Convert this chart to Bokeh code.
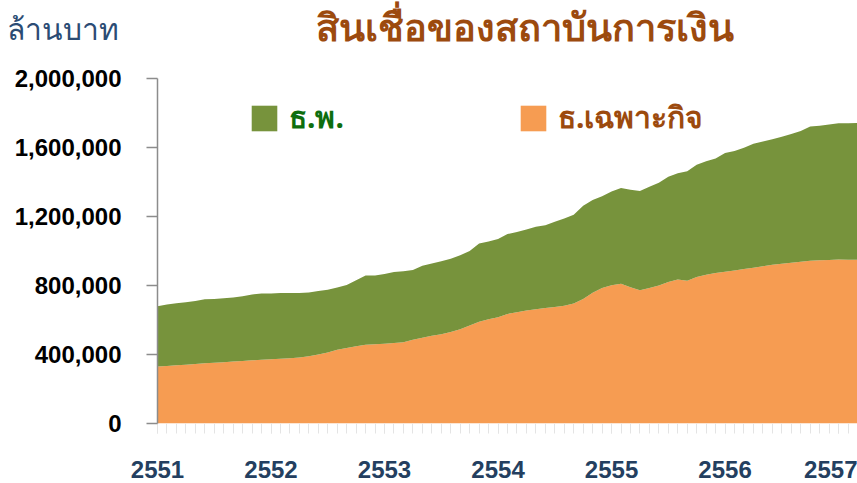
from bokeh.plotting import figure
from bokeh.layouts import column
from bokeh.models import (ColumnDataSource, FixedTicker, NumeralTickFormatter, Label,
                          Legend, LegendItem, Range1d)
from bokeh.embed import file_html
from bokeh.resources import INLINE

# ---------------- data (million baht), monthly from Jan 2551 ----------------
years = ["2551", "2552", "2553", "2554", "2555", "2556", "2557"]
year_start_index = [0, 12, 24, 36, 48, 60, 72]

# Specialized financial institutions (ธ.เฉพาะกิจ)
specialized = [
    330000, 334000, 337000, 340000, 345000, 349000, 352000, 355000, 359000, 362000, 366000, 369000,
    372000, 375000, 378000, 383000, 390000, 400000, 412000, 427000, 438000, 448000, 457000, 460000,
    463000, 467000, 471000, 485000, 497000, 508000, 518000, 530000, 546000, 568000, 590000, 604000,
    616000, 635000, 645000, 655000, 663000, 670000, 676000, 682000, 695000, 722000, 758000, 785000,
    802000, 810000, 790000, 772000, 785000, 800000, 820000, 835000, 828000, 850000, 862000, 872000,
    880000, 887000, 895000, 903000, 912000, 920000, 926000, 932000, 937000, 943000, 947000, 948000,
    951000, 950000, 949000,
]
# Commercial banks (ธ.พ.)
commercial = [
    350000, 356000, 360000, 363000, 365000, 371000, 370000, 371000, 372000, 375000, 382000, 384000,
    382000, 381000, 379000, 373000, 370000, 368000, 363000, 361000, 365000, 382000, 401000, 398000,
    403000, 411000, 411000, 405000, 418000, 420000, 422000, 425000, 429000, 432000, 453000, 451000,
    454000, 463000, 465000, 470000, 477000, 480000, 494000, 506000, 515000, 540000, 537000, 533000,
    543000, 555000, 565000, 576000, 587000, 595000, 610000, 616000, 634000, 650000, 658000, 664000,
    688000, 693000, 703000, 719000, 723000, 728000, 736000, 746000, 758000, 779000, 779000, 785000,
    790000, 790000, 793000,
]
month_index = list(range(len(specialized)))
y_ticks = [0, 400000, 800000, 1200000, 1600000, 2000000]

title_text = "สินเชื่อของสถาบันการเงิน"
y_label_text = "ล้านบาท"
label_commercial = "ธ.พ."
label_specialized = "ธ.เฉพาะกิจ"

# ---------------- styling ----------------
GREEN = "#77933C"
ORANGE = "#F69C52"
BROWN = "#9C4A0E"
DKGREEN = "#0E6E0E"
NAVY = "#243F60"
THAI_FONT = "Noto Sans"
W = 857
LEFT = 157
HEAD_H = 66

# ---------------- header strip: title and unit (y-axis) label ----------------
head = figure(width=W, height=HEAD_H, output_backend="svg", toolbar_location=None,
              x_range=Range1d(0, W - LEFT), y_range=Range1d(HEAD_H, 0),
              x_axis_type=None, min_border_left=LEFT, min_border_right=0,
              min_border_top=0, min_border_bottom=11)
head.outline_line_color = None
head.grid.grid_line_color = None
head.background_fill_color = "white"
head.border_fill_color = "white"
ya = head.yaxis[0]
ya.ticker = FixedTicker(ticks=[])
ya.axis_line_color = None
ya.major_tick_line_color = None
ya.minor_tick_line_color = None
ya.major_tick_out = 0
ya.minor_tick_out = 0
ya.major_label_standoff = 0
ya.axis_label = y_label_text
ya.axis_label_orientation = "horizontal"
ya.axis_label_standoff = 39
ya.axis_label_text_font = THAI_FONT
ya.axis_label_text_font_style = "normal"
ya.axis_label_text_font_size = "30px"
ya.axis_label_text_color = "#2B4C74"

head.add_layout(Label(x=315 - LEFT, y=31, text=title_text, text_align="left",
                      text_baseline="alphabetic", text_font=THAI_FONT, text_font_style="bold",
                      text_font_size="38px", text_color=BROWN))

# ---------------- main chart ----------------
source = ColumnDataSource(dict(x=month_index, spec=specialized, comm=commercial))

p = figure(width=W, height=483 - HEAD_H, output_backend="svg", toolbar_location=None,
           x_range=Range1d(0, 74), y_range=Range1d(0, 2000000),
           min_border_left=LEFT, min_border_right=0, min_border_top=12, min_border_bottom=60)
p.background_fill_color = "white"
p.border_fill_color = "white"
p.outline_line_color = None
p.xgrid.grid_line_color = None
p.ygrid.grid_line_color = None

rs = p.varea_stack(stackers=["spec", "comm"], x="x", color=[ORANGE, GREEN], source=source)

# y axis
p.yaxis.ticker = FixedTicker(ticks=y_ticks)
p.yaxis.formatter = NumeralTickFormatter(format="0,0")
p.yaxis.axis_line_color = "#8c8c8c"
p.yaxis.axis_line_width = 1.5
p.yaxis.major_tick_line_color = "#8c8c8c"
p.yaxis.major_tick_line_width = 1.5
p.yaxis.major_tick_out = 11
p.yaxis.major_tick_in = 0
p.yaxis.minor_tick_line_color = None
p.yaxis.major_label_standoff = 25
p.yaxis.major_label_text_font = "Liberation Sans"
p.yaxis.major_label_text_font_style = "bold"
p.yaxis.major_label_text_font_size = "24px"
p.yaxis.major_label_text_color = "black"

# x axis
p.xaxis.ticker = FixedTicker(ticks=year_start_index, minor_ticks=month_index)
p.xaxis.major_label_overrides = {i: y for i, y in zip(year_start_index, years)}
p.xaxis.axis_line_color = None
p.xaxis.major_tick_line_color = "#e4e4e4"
p.xaxis.minor_tick_line_color = "#e4e4e4"
p.xaxis.major_tick_out = 10
p.xaxis.minor_tick_out = 10
p.xaxis.major_tick_in = 0
p.xaxis.minor_tick_in = 0
p.xaxis.major_label_standoff = 27
p.xaxis.major_label_text_font = "Liberation Sans"
p.xaxis.major_label_text_font_style = "bold"
p.xaxis.major_label_text_font_size = "24px"
p.xaxis.major_label_text_color = NAVY


def make_legend(item_label, renderer, color, loc):
    return Legend(items=[LegendItem(label=item_label, renderers=[renderer])], location=loc,
                  orientation="horizontal", padding=0, margin=0, spacing=0,
                  glyph_width=32, glyph_height=32, label_height=30, label_standoff=9,
                  background_fill_alpha=0, border_line_color=None,
                  label_text_font=THAI_FONT, label_text_font_style="bold",
                  label_text_font_size="30px", label_text_color=color)


p.add_layout(make_legend(label_commercial, rs[1], DKGREEN, (91, 282)), "center")
p.add_layout(make_legend(label_specialized, rs[0], BROWN, (360, 282)), "center")

layout = column(head, p, spacing=0)
open("out.html", "w").write(file_html(layout, INLINE))
